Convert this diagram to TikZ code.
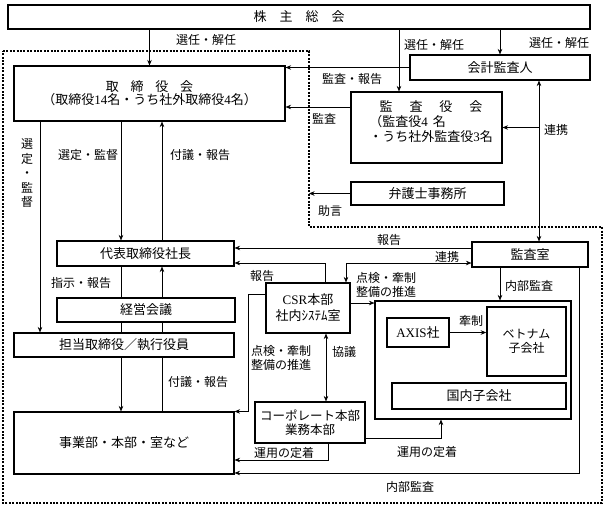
\documentclass[tikz,border=0pt]{standalone}
\usepackage{fontspec}
\setmainfont{Noto Sans CJK JP}
\newfontfamily\lat{Liberation Serif}
\usetikzlibrary{arrows.meta, positioning}

\begin{document}
\begin{tikzpicture}[x=1pt, y=-1pt,
    box/.style={rectangle, draw, line width=1.1pt, inner sep=0pt, align=center, font=\fontsize{13}{15}\selectfont},
    lbl/.style={inner sep=0pt, align=center, font=\fontsize{12}{14}\selectfont},
    dotline/.style={line width=2pt, dash pattern=on 2pt off 1.4pt},
    >={Stealth[length=5.5pt, width=4.5pt]}, line width=0.6pt
    ]
    \useasboundingbox (0,0) rectangle (605,509);

    % boxes
    \node[box, minimum width=582pt, minimum height=24pt] (kabu) at (299,17) {株\hspace{1em}主\hspace{1em}総\hspace{1em}会};
    \node[box, minimum width=271pt, minimum height=55pt, font=\fontsize{13}{13}\selectfont] (tori) at (149.5,93.5) {取\hspace{.9em}締\hspace{.9em}役\hspace{.9em}会\\（取締役{\lat 14}名・うち社外取締役{\lat 4}名）};
    \node[box, minimum width=180pt, minimum height=25pt] (kaikei) at (500,67.5) {会計監査人};
    \node[box, minimum width=151pt, minimum height=71pt] (kansa) at (426.5,127.5) {};
    \node[lbl, align=left, font=\fontsize{13}{15}\selectfont] (kansa-txt) at (431,122) {\makebox[9.5em]{監\hspace{1.3em}査\hspace{1.3em}役\hspace{1.3em}会}\\（監査役{\lat 4}\hspace{0.4em}名\\・うち社外監査役{\lat 3}名};
    \node[box, minimum width=153pt, minimum height=23pt] (bengo) at (427.5,193.5) {弁護士事務所};
    \node[box, minimum width=177pt, minimum height=25pt] (daihyo) at (145.5,253.5) {代表取締役社長};
    \node[box, minimum width=178pt, minimum height=24pt] (keiei) at (146,310) {経営会議};
    \node[box, minimum width=220pt, minimum height=24pt] (tanto) at (124,345) {担当取締役／執行役員};
    \node[box, minimum width=220pt, minimum height=62pt] (jigyo) at (124,443) {事業部・本部・室など};
    \node[box, minimum width=84pt, minimum height=50pt, font=\fontsize{13}{16}\selectfont] (csr) at (308,308) {{\lat CSR}本部\\社内ｼｽﾃﾑ室};
    \node[box, minimum width=110pt, minimum height=41pt, font=\fontsize{12.5}{13.5}\selectfont] (corp) at (310,422.5) {コーポレート本部\\業務本部};
    \node[box, minimum width=116pt, minimum height=25pt] (shitsu) at (530,254.5) {監査室};
    \node[box, minimum width=196pt, minimum height=118pt] (grp) at (473,360) {};
    \node[box, minimum width=62pt, minimum height=29pt] (axis) at (418,332.5) {{\lat AXIS}社};
    \node[box, line width=1.5pt, minimum width=79pt, minimum height=69pt, font=\fontsize{12}{14}\selectfont] (viet) at (526.5,341.5) {ベトナム\\子会社};
    \node[box, minimum width=174pt, minimum height=26pt] (kokunai) at (479,396) {国内子会社};

    % dotted frame
    \draw[dotline] (3,51) -- (309,51) -- (309,227) -- (602,227) -- (602,503) -- (3,503) -- cycle;
    \coordinate (dc) at (309,227);

    % columns and rows of the connectors
    \coordinate (xsen) at (40,0);
    \coordinate (xl) at (121,0);
    \coordinate (xr) at (162,0);
    \coordinate (xcsr) at (248,0);
    \coordinate (xrep) at (325,0);
    \coordinate (xkyo) at (326,0);
    \coordinate (xunl) at (328,0);
    \coordinate (xren) at (346,0);
    \coordinate (xks) at (399,0);
    \coordinate (xunr) at (441,0);
    \coordinate (xnai) at (500,0);
    \coordinate (xkei) at (539,0);
    \coordinate (xnai2) at (579,0);
    \coordinate (ykan) at (0,107);
    \coordinate (yrep) at (0,248);
    \coordinate (yren) at (0,263);
    \coordinate (ychk) at (0,294);
    \coordinate (ypro) at (0,303);
    \coordinate (yunr) at (0,438);
    \coordinate (yunl) at (0,460);
    \coordinate (ynai) at (0,473);

    % connectors
    \draw[->] (tori.north |- kabu.south) -- (tori.north);
    \draw[->] (xks |- kabu.south) -- (xks |- kansa.north);
    \draw[->] (kaikei.north |- kabu.south) -- (kaikei.north);
    \draw[->] (kaikei.west) -- (kaikei.west -| tori.east);
    \draw[->] (kansa.west |- ykan) -- (tori.east |- ykan);
    \draw[<->] (xkei |- kaikei.south) -- (xkei |- shitsu.north);
    \draw[->] (xkei |- kansa.east) -- (kansa.east);
    \draw[->] (bengo.west) -- (bengo.west -| dc);

    \draw[->] (xsen |- tori.south) -- (xsen |- tanto.north);
    \draw[->] (xl |- tori.south) -- (xl |- daihyo.north);
    \draw[->] (xr |- daihyo.north) -- (xr |- tori.south);
    \draw (xl |- daihyo.south) -- (xl |- keiei.north);
    \draw[->] (xr |- keiei.north) -- (xr |- daihyo.south);
    \draw (xl |- keiei.south) -- (xl |- tanto.north);
    \draw (xr |- keiei.south) -- (xr |- tanto.north);
    \draw[->] (xl |- tanto.south) -- (xl |- jigyo.north);
    \draw (xr |- jigyo.north) -- (xr |- tanto.south);

    \draw[->] (shitsu.west |- yrep) -- (daihyo.east |- yrep);
    \draw[->] (xrep |- csr.north) |- (daihyo.east |- yren);
    \draw[<->] (shitsu.west |- yren) -| (xren |- csr.north);
    \draw[->] (csr.east |- ypro) -- (grp.west |- ypro);
    \draw[->] (xnai |- shitsu.south) -- (xnai |- grp.north);
    \draw[->] (axis.east) -- (viet.west |- axis.east);
    \draw[->] (csr.west |- ychk) -| (xcsr |- jigyo.north) -- (jigyo.north east);
    \draw[<->] (xkyo |- csr.south) -- (xkyo |- corp.north);
    \draw[->] (xunl |- corp.south) |- (jigyo.east |- yunl);
    \draw[->] (corp.east |- yunr) -| (xunr |- grp.south);
    \draw[->] (xnai2 |- shitsu.south) |- (jigyo.east |- ynai);

    % labels
    \node[lbl] (sel-t) at (206,40) {選任・解任};
    \node[lbl] (sel-k) at (434,45) {選任・解任};
    \node[lbl] (sel-a) at (559,43) {選任・解任};
    \node[lbl] (audit-rep) at (352,79) {監査・報告};
    \node[lbl] (audit) at (324,119) {監査};
    \node[lbl] (coop-a) at (556,130) {連携};
    \node[lbl] (advice) at (330,211) {助言};
    \node[lbl, font=\fontsize{12}{14.5}\selectfont] (choose-v) at (27,173.5) {選\\定\\・\\監\\督};
    \node[lbl] (choose) at (88,155) {選定・監督};
    \node[lbl] (propose-u) at (200,155) {付議・報告};
    \node[lbl] (instr) at (81,283) {指示・報告};
    \node[lbl] (propose-l) at (198,382) {付議・報告};
    \node[lbl] (rep-s) at (389,240) {報告};
    \node[lbl] (rep-c) at (262,276) {報告};
    \node[lbl] (coop-s) at (447,257) {連携};
    \node[lbl, align=left, font=\fontsize{12}{13.5}\selectfont] (check-g) at (386,285) {点検・牽制\\整備の推進};
    \node[lbl] (intaud-g) at (529,286) {内部監査};
    \node[lbl] (ctrl) at (471,321) {牽制};
    \node[lbl, align=left, font=\fontsize{12}{13.5}\selectfont] (check-j) at (281,358) {点検・牽制\\整備の推進};
    \node[lbl] (consult) at (344,352) {協議};
    \node[lbl] (fix-l) at (284,453) {運用の定着};
    \node[lbl] (fix-r) at (427,452) {運用の定着};
    \node[lbl] (intaud-j) at (410,487) {内部監査};
\end{tikzpicture}
\end{document}
